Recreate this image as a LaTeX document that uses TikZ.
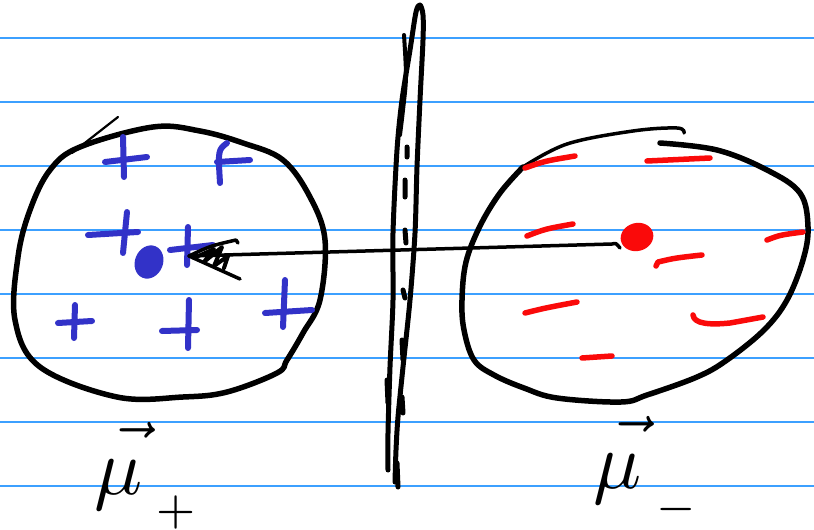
\documentclass[tikz,border=0pt]{standalone}
\definecolor{keblue}{RGB}{60,160,255}
\definecolor{plusblue}{RGB}{50,50,200}
\definecolor{minusred}{RGB}{250,10,10}
\begin{document}
\begin{tikzpicture}[x=1pt, y=-1pt, line join=round, line cap=round,
	ke/.style={draw=keblue, line width=1.6},
	cong/.style={draw=plusblue, line width=6},
	tru/.style={draw=minusred, line width=5.5},
	vien/.style={draw=black, line width=5.5}]
	% Khung giấy
	\fill[white] (0,0) rectangle (814,530);
	\useasboundingbox (0,0) rectangle (814,530);
	
	% --- Dòng kẻ vở ---
	\foreach \y in {38,102,...,486}
	\draw[ke] (0,\y) -- (814,\y);
	
	% Các điểm mốc
	\coordinate (DotP) at (149,262);
	\coordinate (DotM) at (637,237);
	\coordinate (Tail) at (612,244);
	\coordinate (Tip) at (189,256);
	
	% --- Vùng bên trái (+) ---
	\draw[vien] plot[smooth cycle, tension=0.6] coordinates {(80,147) (153,127) (200,131) (243,143) (283,160) (310,197) (325,240) (320,300) (303,333) (287,360) (277,373) (227,392) (183,397) (117,397) (40,367) (15,320) (18,257) (30,210) (50,170)};
	\draw[line width=2.2] (72,153) -- (118,117);
	
	% --- Vùng bên phải (-) ---
	\draw[vien] plot[smooth, tension=0.6] coordinates {(660,143) (717,150) (767,170) (800,193) (808,227) (803,260) (787,300) (764,330) (727,360) (697,377) (647,395) (621,402) (557,398) (524,388) (494,375) (474,360) (464,330) (462,300) (466,262) (480,226) (500,193) (523,167)};
	\draw[line width=3.5] plot[smooth, tension=0.6] coordinates {(523,167) (567,144) (633,131) (677,128) (684,133)};
	
	% --- Mặt phân cách ---
	\draw[line width=5] plot[smooth, tension=0.5] coordinates {(388,470) (388,433) (390,367) (393,300) (393,233) (397,150) (402,100) (410,50) (416,12) (420,5) (423,15) (423,40) (420,100) (417,167) (415,233) (410,300) (403,367) (398,417) (396,450) (395,482)};
	\draw[line width=4] plot[smooth] coordinates {(404,35) (406,77) (403,110) (400,135)};
	\draw[line width=5] (407,147) -- (407,157) (405,180) -- (405,197) (405,230) -- (406,243) (403,290) -- (405,298) (402,340) -- (403,360) (402,397) -- (403,413) (397,463) -- (398,487) (387,380) -- (388,403);
	
	% --- Dấu cộng ---
	\draw[cong] (105,162) -- (147,157) (123,137) -- (124,177);
	\draw[cong] (217,162) -- (250,160) (227,143) .. controls (218,150) .. (220,183);
	\draw[cong] (88,235) -- (138,232) (127,212) -- (123,253);
	\draw[cong] (170,250) -- (213,245) (188,227) -- (187,265);
	\draw[cong] (58,323) -- (92,321) (75,305) -- (74,338);
	\draw[cong] (162,331) -- (197,330) (189,300) -- (188,348);
	\draw[cong] (265,313) -- (312,310) (285,280) -- (283,327);
	
	% --- Dấu trừ ---
	\draw[tru] (525,168) .. controls (545,161) .. (575,156);
	\draw[tru] (647,161) -- (710,158);
	\draw[tru] (527,236) .. controls (545,229) .. (573,224);
	\draw[tru] (767,240) .. controls (780,235) .. (803,232);
	\draw[tru] (656,266) -- (658,262) .. controls (675,258) .. (702,255);
	\draw[tru] (525,313) .. controls (545,308) .. (577,302);
	\draw[tru] (693,315) .. controls (694,324) and (710,325) .. (730,323) -- (763,317);
	\draw[tru] (582,358) -- (612,356);
	
	% --- Hai tâm ---
	\fill[plusblue, rotate around={-22:(DotP)}] (DotP) ellipse [x radius=14, y radius=17];
	\fill[minusred, rotate around={15:(DotM)}] (DotM) ellipse [x radius=16.5, y radius=14];
	
	% --- Mũi tên ---
	\draw[line width=3.5] (620,248) .. controls (616,243) .. (Tail) -- (Tip);
	\draw[line width=3.5] (Tip) .. controls (210,246) .. (236,240) -- (238,243) (Tip) -- (240,279);
	\draw[line width=4] (194,258) -- (214,249) -- (204,262) -- (222,247) -- (214,266) -- (228,256) -- (224,268);
	
	% --- Nhãn ---
	\node[scale=8, inner sep=0, anchor=base west] (LabP) at (93,494) {$\vec{\mu\mkern6mu\vphantom{t}}_{\raisebox{-0.25ex}{\hspace{-1.8pt}$\scriptscriptstyle +$}}$};
	\node[scale=8, inner sep=0, anchor=base west] (LabM) at (592,488) {$\vec{\mu\mkern6mu\vphantom{t}}_{\raisebox{-0.35ex}{\hspace{-1.8pt}$\scriptscriptstyle -$}}$};
	
\end{tikzpicture}
\end{document}
